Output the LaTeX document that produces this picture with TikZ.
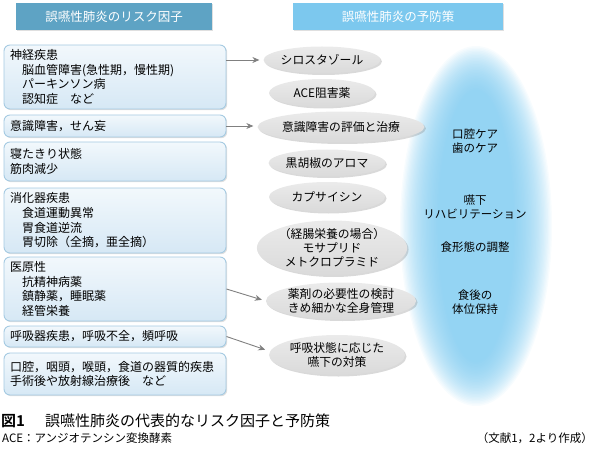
\documentclass[tikz,border=0pt]{standalone}
\usepackage{fontspec}
\setmainfont{Noto Sans CJK JP}
\newfontfamily\jpbold{Noto Sans CJK JP Bold}
\usetikzlibrary{shapes.geometric,shadows,arrows.meta}
\definecolor{hdrL}{RGB}{94,163,196}
\definecolor{hdrR}{RGB}{124,200,238}
\definecolor{boxline}{RGB}{165,202,226}
\definecolor{boxtop}{RGB}{242,248,252}
\definecolor{boxbot}{RGB}{214,232,245}
\definecolor{ellfill}{RGB}{218,218,218}
\definecolor{glowc}{RGB}{125,202,240}
\definecolor{arrowc}{RGB}{128,128,128}
\tikzset{
  hdr/.style={minimum height=27pt, inner sep=0pt, text=white, font=\fontsize{12.5}{14}\selectfont,
    drop shadow={shadow xshift=1pt, shadow yshift=-1pt, opacity=0.25}},
  riskbox/.style={rectangle, rounded corners=6pt, draw=boxline, line width=0.9pt,
    top color=boxtop, bottom color=boxbot, minimum width=222pt, inner sep=0pt,
    text width=210pt, align=left, font=\fontsize{12}{14.7}\selectfont,
    drop shadow={shadow xshift=1.2pt, shadow yshift=-1.2pt, opacity=0.25}},
  prev/.style={ellipse, inner sep=0pt, top color=ellfill!55!white, bottom color=ellfill,
    align=center, font=\fontsize{11.8}{13.8}\selectfont,
    drop shadow={shadow xshift=1.5pt, shadow yshift=-1.5pt, opacity=0.3}},
  glowtxt/.style={align=center, font=\fontsize{11.5}{14}\selectfont},
  conn/.style={draw=arrowc, line width=0.9pt, -{Stealth[length=7pt,width=6pt]}, shorten >=4pt},
}
\begin{document}
\begin{tikzpicture}[x=1pt,y=-1pt]
\useasboundingbox (0,0) rectangle (596,465);
% glow
\foreach \i in {0,...,29}{
  \fill[glowc, opacity=0.055] (476,226) ellipse ({76-1.3*\i} and {180-1.5*\i});
}
% headers
\node[hdr, fill=hdrL, minimum width=196pt] (hL) at (114,16.5) {誤嚥性肺炎のリスク因子};
\node[hdr, fill=hdrR, minimum width=210pt] (hR) at (398,16.5) {誤嚥性肺炎の予防策};
% risk boxes
\node[riskbox, minimum height=64pt] (b1) at (115,77) {神経疾患\\\hspace*{1em}脳血管障害(急性期，慢性期)\\\hspace*{1em}パーキンソン病\\\hspace*{1em}認知症\quad など};
\node[riskbox, minimum height=22pt] (b2) at (115,126) {意識障害，せん妄};
\node[riskbox, minimum height=39pt] (b3) at (115,161.5) {寝たきり状態\\筋肉減少};
\node[riskbox, minimum height=65pt] (b4) at (115,220.5) {消化器疾患\\\hspace*{1em}食道運動異常\\\hspace*{1em}胃食道逆流\\\hspace*{1em}胃切除（全摘，亜全摘）};
\node[riskbox, minimum height=64pt] (b5) at (115,289) {医原性\\\hspace*{1em}抗精神病薬\\\hspace*{1em}鎮静薬，睡眠薬\\\hspace*{1em}経管栄養};
\node[riskbox, minimum height=21pt] (b6) at (115,336.5) {呼吸器疾患，呼吸不全，頻呼吸};
\node[riskbox, minimum height=42pt] (b7) at (115,374) {口腔，咽頭，喉頭，食道の器質的疾患\\手術後や放射線治療後\quad など};
% prevention ellipses
\node[prev, minimum width=106pt, minimum height=27pt] (e1) at (322,60) {シロスタゾール};
\node[prev, minimum width=106pt, minimum height=28pt] (e2) at (322,93) {ACE阻害薬};
\node[prev, minimum width=144pt, minimum height=31pt] (e3) at (341,127) {意識障害の評価と治療};
\node[prev, minimum width=116pt, minimum height=27pt] (e4) at (327,163) {黒胡椒のアロマ};
\node[prev, minimum width=116pt, minimum height=30pt] (e5) at (327,197) {カプサイシン};
\node[prev, minimum width=126pt, minimum height=55pt] (e6) at (332,248) {（経腸栄養の場合）\\モサプリド\\メトクロプラミド};
\node[prev, minimum width=144pt, minimum height=37pt] (e7) at (341,301) {薬剤の必要性の検討\\きめ細かな全身管理};
\node[prev, minimum width=136pt, minimum height=40pt] (e8) at (337,355) {呼吸状態に応じた\\嚥下の対策};
% glow texts
\node[glowtxt] (g1) at (475,141) {口腔ケア\\歯のケア};
\node[glowtxt] (g2) at (475,206.5) {嚥下\\リハビリテーション};
\node[glowtxt] (g3) at (475,247) {食形態の調整};
\node[glowtxt] (g4) at (475,302.5) {食後の\\体位保持};
% connectors
\coordinate (t4) at (269,351);
\draw[conn] (b1.east |- e1) -- (e1.west);
\draw[conn] (b2.east) -- (b2.east -| e3.west);
\draw[conn] (b5.east) -- (e7.west);
\draw[conn] (b6.east) -- (t4);
% caption
\node[anchor=west, inner sep=0pt, font=\jpbold\fontsize{15}{17}\selectfont] (c1) at (1,421) {図1};
\node[anchor=west, inner sep=0pt, font=\fontsize{15}{17}\selectfont] (c2) at (45,421) {誤嚥性肺炎の代表的なリスク因子と予防策};
\node[anchor=west, inner sep=0pt, font=\fontsize{11.5}{13}\selectfont] (c3) at (2,438) {ACE：アンジオテンシン変換酵素};
\node[anchor=east, inner sep=0pt, font=\fontsize{11.5}{13}\selectfont] (c4) at (593,438) {（文献1，2より作成）};
\end{tikzpicture}
\end{document}
